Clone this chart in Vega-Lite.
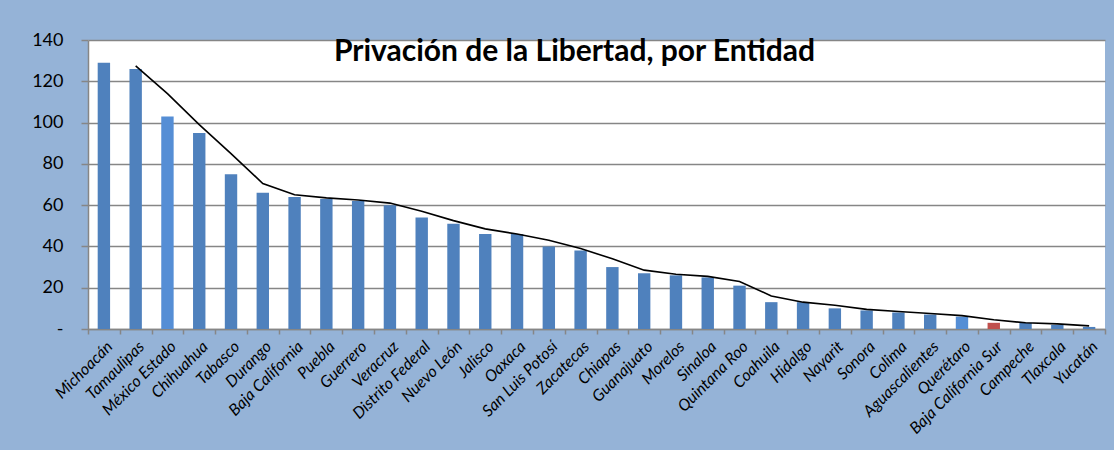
{
  "$schema": "https://vega.github.io/schema/vega-lite/v6.json",
  "autosize": "none",
  "width": 1017,
  "height": 289,
  "padding": {"left": 88, "top": 40, "right": 9, "bottom": 121},
  "background": "#95B3D7",
  "view": {"fill": "white", "stroke": null},
  "title": {
    "text": "Privación de la Libertad, por Entidad",
    "font": "Lato",
    "fontSize": 30,
    "fontWeight": "bold",
    "color": "black",
    "anchor": "middle",
    "dx": -22,
    "dy": 40,
    "offset": -26,
    "baseline": "bottom"
  },
  "data": {
    "values": [
      {"entidad": "Michoacán", "valor": 129, "tipo": "a", "promedio": null},
      {"entidad": "Tamaulipas", "valor": 126, "tipo": "a", "promedio": 127.5},
      {"entidad": "México Estado", "valor": 103, "tipo": "b", "promedio": 114},
      {"entidad": "Chihuahua", "valor": 95, "tipo": "a", "promedio": 99},
      {"entidad": "Tabasco", "valor": 75, "tipo": "a", "promedio": 85},
      {"entidad": "Durango", "valor": 66, "tipo": "a", "promedio": 70.5},
      {"entidad": "Baja California", "valor": 64, "tipo": "a", "promedio": 65},
      {"entidad": "Puebla", "valor": 63, "tipo": "a", "promedio": 63.5},
      {"entidad": "Guerrero", "valor": 62, "tipo": "a", "promedio": 62.5},
      {"entidad": "Veracruz", "valor": 60, "tipo": "a", "promedio": 61},
      {"entidad": "Distrito Federal", "valor": 54, "tipo": "a", "promedio": 57},
      {"entidad": "Nuevo León", "valor": 51, "tipo": "a", "promedio": 52.5},
      {"entidad": "Jalisco", "valor": 46, "tipo": "a", "promedio": 48.5},
      {"entidad": "Oaxaca", "valor": 46, "tipo": "a", "promedio": 46},
      {"entidad": "San Luis Potosí", "valor": 40, "tipo": "a", "promedio": 43},
      {"entidad": "Zacatecas", "valor": 38, "tipo": "a", "promedio": 39},
      {"entidad": "Chiapas", "valor": 30, "tipo": "a", "promedio": 34},
      {"entidad": "Guanajuato", "valor": 27, "tipo": "a", "promedio": 28.5},
      {"entidad": "Morelos", "valor": 26, "tipo": "a", "promedio": 26.5},
      {"entidad": "Sinaloa", "valor": 25, "tipo": "a", "promedio": 25.5},
      {"entidad": "Quintana Roo", "valor": 21, "tipo": "a", "promedio": 23},
      {"entidad": "Coahuila", "valor": 13, "tipo": "a", "promedio": 16},
      {"entidad": "Hidalgo", "valor": 13, "tipo": "a", "promedio": 13},
      {"entidad": "Nayarit", "valor": 10, "tipo": "a", "promedio": 11.5},
      {"entidad": "Sonora", "valor": 9, "tipo": "a", "promedio": 9.5},
      {"entidad": "Colima", "valor": 8, "tipo": "a", "promedio": 8.5},
      {"entidad": "Aguascalientes", "valor": 7, "tipo": "a", "promedio": 7.5},
      {"entidad": "Querétaro", "valor": 6, "tipo": "b", "promedio": 6.5},
      {"entidad": "Baja California Sur", "valor": 3, "tipo": "c", "promedio": 4.5},
      {"entidad": "Campeche", "valor": 3, "tipo": "a", "promedio": 3},
      {"entidad": "Tlaxcala", "valor": 2, "tipo": "a", "promedio": 2.5},
      {"entidad": "Yucatán", "valor": 1, "tipo": "a", "promedio": 1.5}
    ]
  },
  "encoding": {
    "x": {
      "field": "entidad",
      "type": "nominal",
      "sort": null,
      "scale": {"paddingInner": 0, "paddingOuter": 0},
      "axis": {
        "title": null,
        "labelAngle": -45,
        "labelFont": "Lato",
        "labelFontStyle": "italic",
        "labelFontSize": 16,
        "labelColor": "black",
        "labelPadding": 4,
        "tickBand": "extent",
        "tickSize": 5,
        "tickColor": "#868686",
        "tickWidth": 1.5,
        "domainColor": "#868686",
        "domainWidth": 1.5,
        "grid": false,
        "labelOverlap": false
      }
    }
  },
  "layer": [
    {
      "mark": {"type": "bar", "width": {"band": 0.39}},
      "encoding": {
        "y": {
          "field": "valor",
          "type": "quantitative",
          "scale": {"domain": [0, 140], "nice": false},
          "axis": {
            "title": null,
            "values": [0, 20, 40, 60, 80, 100, 120, 140],
            "labelExpr": "datum.value === 0 ? '-' : datum.label",
            "labelFont": "Lato",
            "labelFontSize": 18,
            "labelColor": "black",
            "labelPadding": 18,
            "tickSize": 7,
            "tickColor": "#868686",
            "tickWidth": 1.5,
            "domainColor": "#868686",
            "domainWidth": 1.5,
            "grid": true,
            "gridColor": "#868686",
            "gridWidth": 1.5
          }
        },
        "color": {
          "field": "tipo",
          "type": "nominal",
          "scale": {"domain": ["a", "b", "c"], "range": ["#4F81BD", "#558ED5", "#C0504D"]},
          "legend": null
        }
      }
    },
    {
      "mark": {"type": "line", "color": "black", "strokeWidth": 1.6},
      "encoding": {
        "y": {"field": "promedio", "type": "quantitative"}
      }
    }
  ]
}
